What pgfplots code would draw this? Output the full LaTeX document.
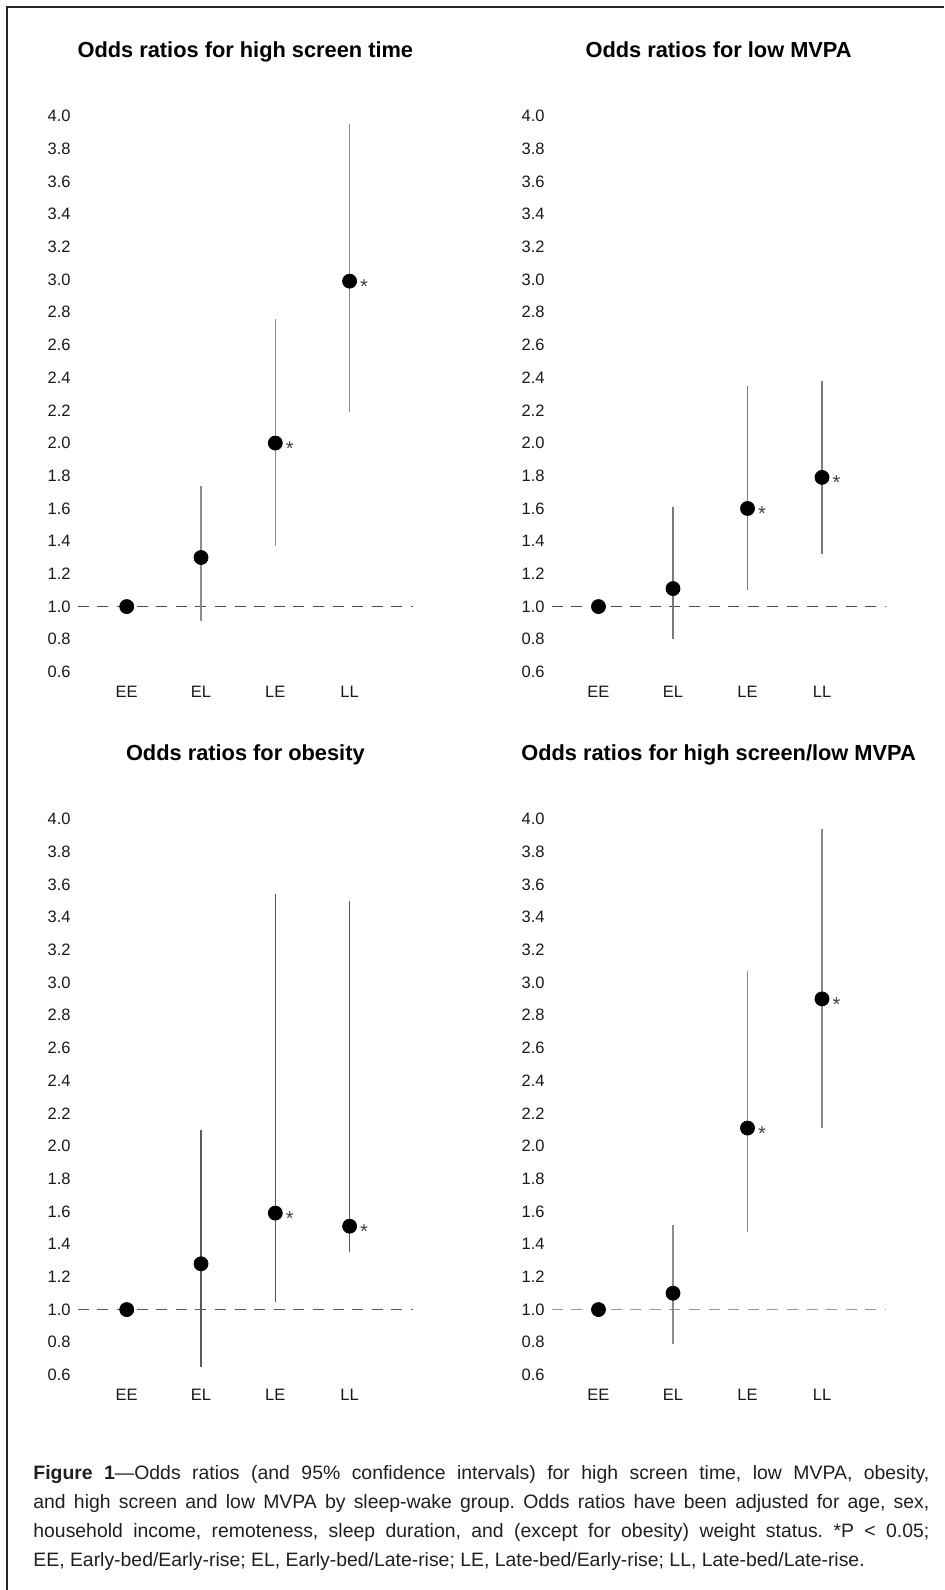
\documentclass[border=0pt]{standalone}
\usepackage{fontspec}
\setmainfont{Liberation Sans}
\usepackage{pgfplots}
\usepackage{pgfplotstable}
\pgfplotsset{compat=1.18}

\definecolor{ciA}{HTML}{8C8C8C}
\definecolor{ciB}{HTML}{7A7A7A}
\definecolor{ciC}{HTML}{5A5A5A}
\definecolor{ciD}{HTML}{8A8A8A}

% one panel of odds ratios
\pgfplotsset{
  orpanel/.style={
    scale only axis,
    height=278pt,
    ymin=0.6, ymax=4.0,
    xtick={0,1,2,3}, xticklabels={EE,EL,LE,LL},
    ytick={0.6,0.8,1.0,1.2,1.4,1.6,1.8,2.0,2.2,2.4,2.6,2.8,3.0,3.2,3.4,3.6,3.8,4.0},
    yticklabel style={/pgf/number format/.cd, fixed, fixed zerofill, precision=1, assume math mode=true},
    axis line style={draw=none},
    tick style={draw=none},
    tick label style={font=\fontsize{8.25}{10}\selectfont, text=black!90},
    xticklabel style={anchor=base, yshift=-13pt},
    title style={font=\bfseries\fontsize{10.9}{13}\selectfont, at={(0.5,1)}, anchor=base, yshift=23pt},
    clip=false,
    anchor=south west,
  },
  leftcol/.style={width=167.65pt, xmin=-0.66, xmax=3.853},
  rightcol/.style={width=166.9pt, xmin=-0.628, xmax=3.852},
  refline/.style={line width=0.6pt, dash pattern=on 5.5pt off 4.3pt},
  dots/.style={only marks, mark=*, mark size=3.5pt, mark options={fill=black, draw=black},
    error bars/y dir=both, error bars/y explicit, error bars/error mark=none},
  stars/.style={draw=none, nodes near coords={*},
    every node near coord/.append style={anchor=center, xshift=7.2pt, yshift=-2.7pt,
      font=\fontsize{10}{10}\selectfont, text=black!75}},
}

% x = group (EE, EL, LE, LL), y = odds ratio, lo/hi = 95% CI
\pgfplotstableread{
x y    lo    hi
0 1.00 1.00  1.00
1 1.30 0.91  1.74
2 2.00 1.37  2.76
3 2.99 2.19  3.95
}\screen
\pgfplotstableread{
x y    lo    hi
0 1.00 1.00  1.00
1 1.11 0.80  1.61
2 1.60 1.10  2.35
3 1.79 1.32  2.38
}\mvpa
\pgfplotstableread{
x y    lo    hi
0 1.00 1.00  1.00
1 1.28 0.65  2.10
2 1.59 1.045 3.54
3 1.51 1.354 3.50
}\obesity
\pgfplotstableread{
x y    lo    hi
0 1.00 1.00  1.00
1 1.10 0.79  1.52
2 2.11 1.475 3.07
3 2.90 2.11  3.94
}\both

\begin{document}
\begin{tikzpicture}
\draw[line width=0.7pt, black!85] (3.5pt,0pt) -- (3.5pt,791.5pt) -- (472pt,791.5pt);

% top left
\begin{axis}[orpanel, leftcol, at={(38.85pt,459pt)},
  title={Odds ratios for high screen time}]
\addplot[refline, black!70] coordinates {(-0.66,1) (3.853,1)};
\addplot[dots, error bars/error bar style={line width=0.65pt, ciA}]
  table[x=x, y=y, y error plus expr=\thisrow{hi}-\thisrow{y}, y error minus expr=\thisrow{y}-\thisrow{lo}] {\screen};
\addplot[stars] coordinates {(2,2.00) (3,2.99)};
\end{axis}

% top right
\begin{axis}[orpanel, rightcol, at={(275.85pt,459pt)},
  title={Odds ratios for low MVPA}]
\addplot[refline, black!70] coordinates {(-0.628,1) (3.852,1)};
\addplot[dots, error bars/error bar style={line width=0.65pt, ciB}]
  table[x=x, y=y, y error plus expr=\thisrow{hi}-\thisrow{y}, y error minus expr=\thisrow{y}-\thisrow{lo}] {\mvpa};
\addplot[stars] coordinates {(2,1.60) (3,1.79)};
\end{axis}

% bottom left
\begin{axis}[orpanel, leftcol, at={(38.85pt,107.5pt)},
  title={Odds ratios for obesity}]
\addplot[refline, black!65] coordinates {(-0.66,1) (3.853,1)};
\addplot[dots, error bars/error bar style={line width=0.55pt, ciC}]
  table[x=x, y=y, y error plus expr=\thisrow{hi}-\thisrow{y}, y error minus expr=\thisrow{y}-\thisrow{lo}] {\obesity};
\addplot[stars] coordinates {(2,1.59) (3,1.51)};
\end{axis}

% bottom right
\begin{axis}[orpanel, rightcol, at={(275.85pt,107.5pt)},
  title={Odds ratios for high screen/low MVPA}]
\addplot[refline, black!40, line width=0.75pt] coordinates {(-0.628,1) (3.852,1)};
\addplot[dots, error bars/error bar style={line width=0.65pt, ciD}]
  table[x=x, y=y, y error plus expr=\thisrow{hi}-\thisrow{y}, y error minus expr=\thisrow{y}-\thisrow{lo}] {\both};
\addplot[stars] coordinates {(2,2.11) (3,2.90)};
\end{axis}

\node[anchor=base west, inner sep=0pt, text=black!88] at (16.5pt,55pt) {\parbox[t]{448pt}{\frenchspacing\fontsize{9.7}{14.35}\selectfont
\textbf{Figure 1}---Odds ratios (and 95\% confidence intervals) for high screen time, low MVPA, obesity,\linebreak
and high screen and low MVPA by sleep-wake group. Odds ratios have been adjusted for age, sex,\linebreak
household income, remoteness, sleep duration, and (except for obesity) weight status. *P < 0.05;\linebreak
EE, Early-bed/Early-rise; EL, Early-bed/Late-rise; LE, Late-bed/Early-rise; LL, Late-bed/Late-rise.}};

\pgfresetboundingbox
\path[use as bounding box] (0pt,0pt) rectangle (472pt,795pt);
\end{tikzpicture}
\end{document}
